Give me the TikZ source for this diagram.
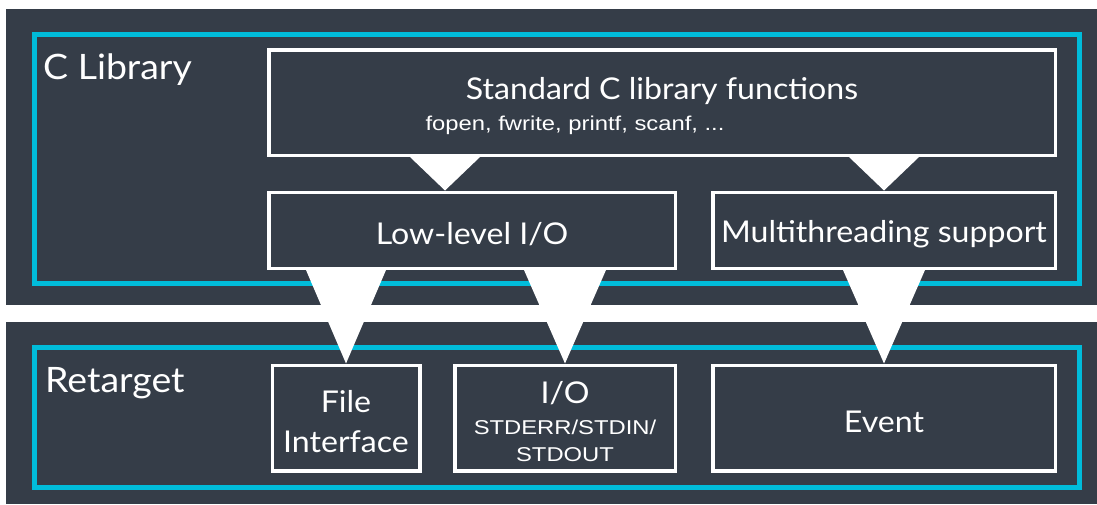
\documentclass[tikz,border=0pt]{standalone}
\usepackage{fontspec}
\setmainfont[FakeStretch=1.07]{Lato}
\newfontfamily\notefont[FakeStretch=1.19]{Liberation Sans}
\usetikzlibrary{positioning,calc}
\definecolor{panel}{RGB}{53,61,72}
\definecolor{frame}{RGB}{0,188,218}
\newcommand\boxfontsize{\fontsize{30}{36}\selectfont}
\newcommand\notefontsize{\notefont\fontsize{20}{27}\selectfont}
\newcommand\capstrut{\rule{0pt}{29.5pt}}

\begin{document}
\begin{tikzpicture}[
  x=1pt, y=-1pt,
  component/.style={draw=white,line width=3.5pt,fill=panel,text=white,font=\boxfontsize,inner sep=0pt,align=center},
  layer/.style={draw=frame,line width=5pt},
  title/.style={anchor=base west,text=white,font={\fontsize{35}{40}\selectfont},inner sep=0pt},
  funnel/.style={fill=white},
]

  % Background and the two layers
  \useasboundingbox (0,0) rectangle (1097,504);
  \fill[white] (0,0) rectangle (1097,504);
  \fill[panel] (6,9) rectangle (1097,305);
  \fill[panel] (6,322) rectangle (1097,504);
  \draw[layer] (34.5,34) rectangle (1079,283);
  \draw[layer] (34.5,347.5) rectangle (1079,487.5);
  \node[title] (clib) at (43,79) {C Library};
  \node[title] (retarget) at (45,392) {Retarget};

  % C library
  \node[component,minimum width=786.5,minimum height=105.5] (stdlib) at (662,102.5)
        {\capstrut Standard C library functions\\[-5pt]{\notefontsize fopen, fwrite, printf, scanf, ...}\kern174pt};

  \node[component,minimum width=406.5,minimum height=76] (lowio) at (472,230.25) {\capstrut Low-level I/O};

  \node[component,minimum width=342.5,minimum height=76] (mthread) at (884,230.25) {\capstrut Multithreading support};

  % Retarget
  \node[component,minimum width=147.5,minimum height=105.5] (fileif) at (346,418) {\capstrut File\\[4pt]Interface};

  \node[component,minimum width=220.5,minimum height=105.5] (stdio) at (565,418)
        {\capstrut I/O\\[-5pt]{\notefontsize STDERR/STDIN/}\\[-9pt]{\notefontsize STDOUT}};

  \node[component,minimum width=342.5,minimum height=105.5] (event) at (884,418) {\capstrut Event};

  % Funnels
  \coordinate (lowin) at ([xshift=-27pt]lowio.north);
  \fill[funnel] ($(lowin |- stdlib.south)+(-35,0)$) -- ($(lowin |- stdlib.south)+(35,0)$) -- (lowin) -- cycle;
  \fill[funnel] ($(mthread.north |- stdlib.south)+(-35,0)$) -- ($(mthread.north |- stdlib.south)+(35,0)$) -- (mthread.north) -- cycle;

  \fill[funnel] ($(fileif.north |- lowio.south)+(-40,0)$) -- ($(fileif.north |- lowio.south)+(40,0)$) -- (fileif.north) -- cycle;
  \fill[funnel] ($(stdio.north |- lowio.south)+(-41,0)$) -- ($(stdio.north |- lowio.south)+(41,0)$) -- (stdio.north) -- cycle;
  \fill[funnel] ($(event.north |- mthread.south)+(-41,0)$) -- ($(event.north |- mthread.south)+(41,0)$) -- (event.north) -- cycle;

\end{tikzpicture}
\end{document}
